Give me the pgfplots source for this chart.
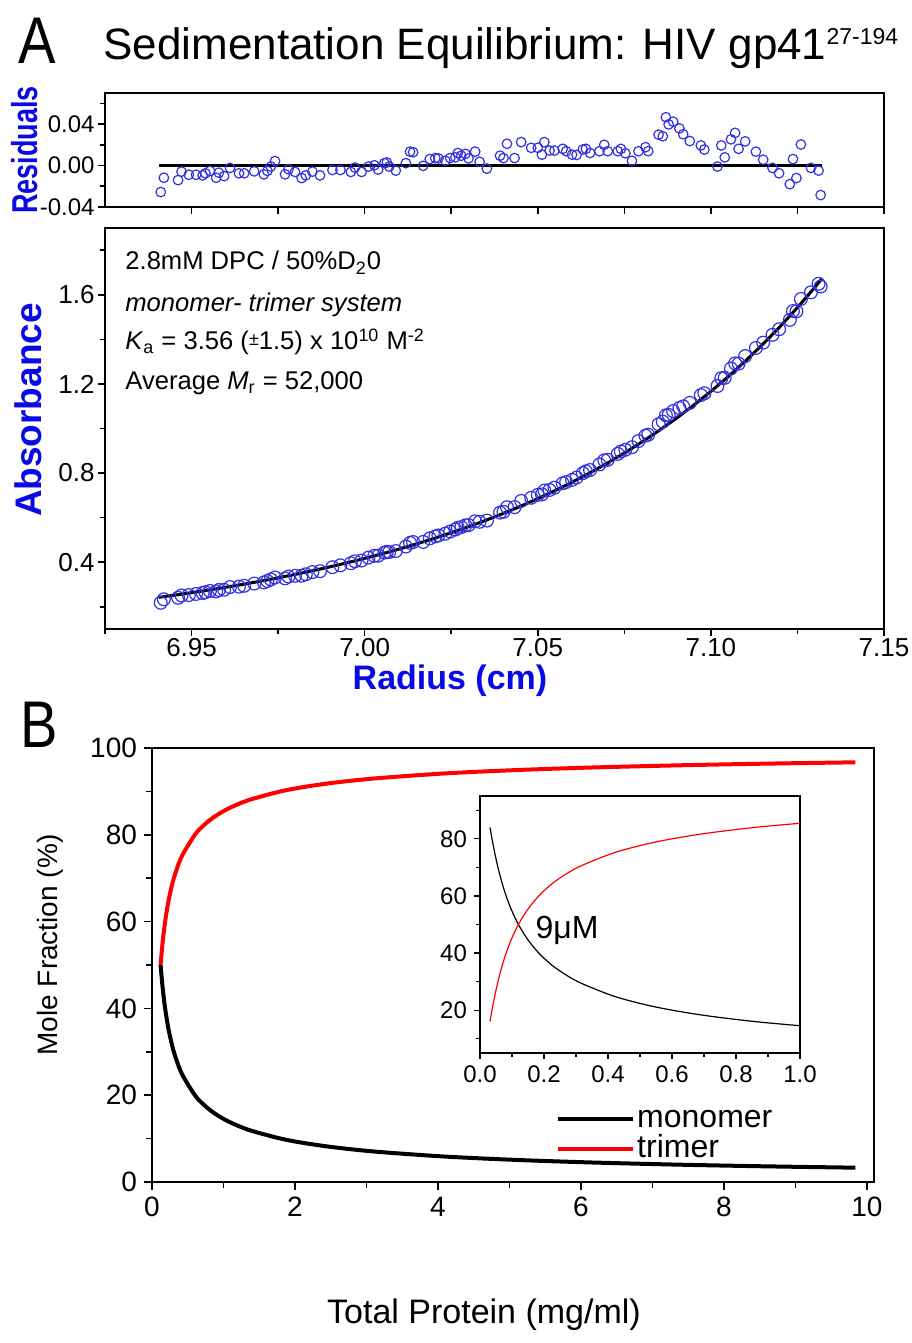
\documentclass[border=0pt]{standalone}
\usepackage{fontspec}
\setmainfont{Liberation Sans}
\usepackage{pgfplots}
\usepackage{pgfplotstable}
\pgfplotsset{compat=1.18}
\definecolor{lblue}{RGB}{10,10,230}
\definecolor{cblue}{RGB}{50,50,225}

\pgfplotstableread{
r res A
6.9411 -0.0256 0.2177
6.9420 -0.0118 0.2334
6.9461 -0.0141 0.2401
6.9471 -0.0059 0.2505
6.9492 -0.0089 0.2523
6.9513 -0.0089 0.2572
6.9532 -0.0095 0.2612
6.9540 -0.0075 0.2651
6.9553 -0.0052 0.2706
6.9571 -0.0118 0.2685
6.9579 -0.0069 0.2754
6.9594 -0.0102 0.2759
6.9611 -0.0023 0.2882
6.9637 -0.0075 0.2899
6.9652 -0.0075 0.2939
6.9681 -0.0056 0.3039
6.9709 -0.0085 0.3090
6.9719 -0.0052 0.3152
6.9729 -0.0010 0.3224
6.9741 0.0043 0.3312
6.9770 -0.0085 0.3273
6.9780 -0.0036 0.3354
6.9799 -0.0062 0.3387
6.9818 -0.0121 0.3390
6.9830 -0.0095 0.3456
6.9849 -0.0059 0.3555
6.9871 -0.0095 0.3595
6.9907 -0.0043 0.3774
6.9930 -0.0043 0.3858
6.9960 -0.0062 0.3951
6.9972 -0.0020 0.4040
6.9991 -0.0062 0.4072
7.0011 -0.0010 0.4204
7.0028 0.0003 0.4287
7.0039 -0.0039 0.4290
7.0057 0.0023 0.4427
7.0064 0.0030 0.4464
7.0071 -0.0010 0.4455
7.0090 -0.0049 0.4498
7.0119 0.0023 0.4700
7.0131 0.0134 0.4867
7.0140 0.0128 0.4902
7.0169 -0.0003 0.4909
7.0188 0.0062 0.5067
7.0204 0.0072 0.5156
7.0213 0.0069 0.5199
7.0233 0.0046 0.5279
7.0247 0.0072 0.5377
7.0262 0.0079 0.5464
7.0269 0.0121 0.5544
7.0279 0.0095 0.5572
7.0291 0.0112 0.5654
7.0300 0.0069 0.5660
7.0319 0.0134 0.5834
7.0332 0.0036 0.5811
7.0353 -0.0030 0.5867
7.0391 0.0095 0.6224
7.0401 0.0072 0.6262
7.0411 0.0210 0.6465
7.0433 0.0072 0.6469
7.0452 0.0226 0.6747
7.0481 0.0171 0.6890
7.0500 0.0171 0.7020
7.0512 0.0105 0.7041
7.0519 0.0226 0.7213
7.0534 0.0144 0.7240
7.0548 0.0144 0.7341
7.0572 0.0161 0.7542
7.0582 0.0138 0.7596
7.0599 0.0105 0.7694
7.0612 0.0102 0.7797
7.0630 0.0154 0.7996
7.0639 0.0161 0.8076
7.0651 0.0121 0.8135
7.0678 0.0138 0.8385
7.0692 0.0200 0.8569
7.0702 0.0138 0.8594
7.0731 0.0138 0.8861
7.0740 0.0161 0.8967
7.0753 0.0118 0.9045
7.0772 0.0046 0.9159
7.0791 0.0138 0.9437
7.0811 0.0177 0.9678
7.0819 0.0138 0.9721
7.0849 0.0298 1.0192
7.0861 0.0282 1.0307
7.0870 0.0466 1.0591
7.0878 0.0397 1.0610
7.0891 0.0423 1.0780
7.0909 0.0358 1.0919
7.0920 0.0302 1.0992
7.0939 0.0236 1.1149
7.0971 0.0194 1.1498
7.0981 0.0154 1.1582
7.1019 -0.0010 1.1907
7.1030 0.0194 1.2256
7.1040 0.0079 1.2274
7.1058 0.0253 1.2693
7.1070 0.0315 1.2924
7.1080 0.0161 1.2911
7.1099 0.0233 1.3251
7.1130 0.0134 1.3615
7.1151 0.0056 1.3853
7.1178 -0.0023 1.4205
7.1197 -0.0075 1.4456
7.1228 -0.0180 1.4875
7.1237 0.0062 1.5270
7.1247 -0.0121 1.5257
7.1260 0.0203 1.5813
7.1289 -0.0023 1.6113
7.1311 -0.0049 1.6494
7.1317 -0.0285 1.6372
}\panelA

\pgfplotstableread{
r A
6.9405 0.2421
6.945 0.2517
6.950 0.2630
6.955 0.2750
6.960 0.2876
6.965 0.3008
6.970 0.3148
6.975 0.3296
6.980 0.3452
6.985 0.3617
6.990 0.3791
6.995 0.3974
7.000 0.4169
7.005 0.4374
7.010 0.4590
7.015 0.4820
7.020 0.5063
7.025 0.5320
7.030 0.5591
7.035 0.5879
7.040 0.6184
7.045 0.6507
7.050 0.6849
7.055 0.7212
7.060 0.7597
7.065 0.8005
7.070 0.8438
7.075 0.8898
7.080 0.9387
7.085 0.9904
7.090 1.0456
7.095 1.1042
7.100 1.1665
7.105 1.2327
7.110 1.3032
7.115 1.3781
7.120 1.4579
7.125 1.5429
7.130 1.6335
7.132 1.6713
}\fitA

\pgfplotstableread{
c mono tri
0.12 50 50
0.1474 45 55
0.1837 40 60
0.2336 35 65
0.3055 30 70
0.4157 25 75
0.6 20 80
0.7115 18 82
0.859 16 84
1.062 14 86
1.354 12 88
1.8 10 90
2.12 9 91
2.543 8 92
3.124 7 93
3.958 6 94
4.522 5.5 94.5
5.231 5 95
6.142 4.5 95.5
7.348 4 96
8.27 3.7 96.3
9.0 3.5 96.5
9.84 3.3 96.7
}\moleMain

\pgfplotstableread{
c mono tri
0.0312 84 16
0.0375 80 20
0.0462 75 25
0.0561 70 30
0.0677 65 35
0.0816 60 40
0.0987 55 45
0.12 50 50
0.1474 45 55
0.1837 40 60
0.2336 35 65
0.3055 30 70
0.4157 25 75
0.5135 22 78
0.6 20 80
0.7115 18 82
0.859 16 84
1.0 14.55 85.45
}\moleInset

\begin{document}
\begin{tikzpicture}
\useasboundingbox (0,0) rectangle (455.5pt,671.5pt);
\pgfplotsset{
  every axis/.append style={
    scale only axis, anchor=south west,
    axis line style={line width=0.8pt},
    tick align=outside, xtick pos=bottom, ytick pos=left,
    major tick length=3.5pt, minor tick length=2.5pt,
    every tick/.style={black, line width=0.8pt},
    scaled x ticks=false, scaled y ticks=false,
  },
}
% ---------- Residuals ----------
\begin{axis}[at={(52.5pt,568pt)}, width=389.5pt, height=57pt,
  xmin=6.925, xmax=7.15, ymin=-0.04, ymax=0.07,
  xtick={6.95,6.975,7,7.025,7.05,7.075,7.1,7.125,7.15}, xticklabels={},
  ytick={-0.04,0,0.04}, yticklabels={-0.04,0.00,0.04},
  minor ytick={-0.02,0.02,0.06},
  yticklabel style={font=\fontsize{12}{12}\selectfont, inner sep=1.5pt},
]
\addplot[draw=cblue, only marks, mark=o, mark size=2.4pt, mark options={line width=0.6pt}] table[x=r,y=res]{\panelA};
\addplot[black, line width=1.5pt] coordinates {(6.9405,0) (7.1322,0)};
\end{axis}
% ---------- Absorbance ----------
\begin{axis}[at={(52.5pt,357pt)}, width=389.5pt, height=200.5pt,
  xmin=6.925, xmax=7.15, ymin=0.1, ymax=1.9,
  xtick={6.95,7,7.05,7.1,7.15}, xticklabels={6.95,7.00,7.05,7.10,7.15},
  minor xtick={6.925,6.975,7.025,7.075,7.125},
  ytick={0.4,0.8,1.2,1.6}, yticklabels={0.4,0.8,1.2,1.6},
  minor ytick={0.2,0.6,1.0,1.4,1.8},
  yticklabel style={font=\fontsize{13}{13}\selectfont, inner sep=1.5pt},
  xticklabel style={font=\fontsize{13}{13}\selectfont, inner sep=1pt},
]
\addplot[draw=cblue, only marks, mark=o, mark size=3.2pt, mark options={line width=0.6pt}] table[x=r,y=A]{\panelA};
\addplot[black, line width=1.5pt] table[x=r,y=A]{\fitA};
\end{axis}
% ---------- Panel B ----------
\begin{axis}[at={(76pt,80.5pt)}, width=361pt, height=217pt,
  xmin=0, xmax=10.1, ymin=0, ymax=100,
  xtick={0,2,4,6,8,10}, xticklabels={0,2,4,6,8,10},
  minor xtick={1,3,5,7,9},
  ytick={0,20,40,60,80,100}, yticklabels={0,20,40,60,80,100},
  minor ytick={10,30,50,70,90},
  major tick length=4pt, minor tick length=3pt,
  tick label style={font=\fontsize{14}{14}\selectfont},
  legend style={draw=none, fill=none, at={(0.551,0.11)}, anchor=west,
    font=\fontsize{16}{16}\selectfont, row sep=0pt,
    nodes={inner sep=1pt, text height=10.5pt, text depth=2.5pt}},
  legend cell align=left,
  legend image code/.code={\draw[#1] (0pt,0pt) -- (37.5pt,0pt);},
]
\addplot[black, line width=2pt, smooth] table[x=c,y=mono]{\moleMain};
\addlegendentry{monomer}
\addplot[red, line width=2pt, smooth] table[x=c,y=tri]{\moleMain};
\addlegendentry{trimer}
\end{axis}
% ---------- Inset ----------
\begin{axis}[at={(240pt,145pt)}, width=160pt, height=128.5pt,
  xmin=0, xmax=1, ymin=5, ymax=95,
  axis background/.style={fill=white},
  axis line style={line width=0.6pt},
  every tick/.style={black, line width=0.6pt},
  major tick length=3pt, minor tick length=2pt,
  xtick={0,0.2,0.4,0.6,0.8,1}, xticklabels={0.0,0.2,0.4,0.6,0.8,1.0},
  minor xtick={0.1,0.3,0.5,0.7,0.9},
  ytick={20,40,60,80}, yticklabels={20,40,60,80},
  minor ytick={10,30,50,70,90},
  tick label style={font=\fontsize{12}{12}\selectfont},
]
\addplot[black, line width=0.6pt, smooth] table[x=c,y=mono]{\moleInset};
\addplot[red, line width=0.6pt, smooth] table[x=c,y=tri]{\moleInset};
\end{axis}
\node[inner sep=0pt] at (283.5pt,206.5pt) {\fontsize{16}{16}\selectfont 9μM};

% ---------- texts ----------
\node[inner sep=0pt] at (18.5pt,651pt) {\scalebox{0.85}[1]{\fontsize{33}{33}\selectfont A}};
\node[inner sep=0pt] at (19.5pt,309pt) {\scalebox{0.85}[1]{\fontsize{33}{33}\selectfont B}};
\node[anchor=base west, inner sep=0pt] at (51.5pt,641.5pt) {\fontsize{22}{22}\selectfont Sedimentation Equilibrium: HIV gp41\raisebox{7.5pt}{\fontsize{11.5}{11.5}\selectfont 27-194}};
\node[rotate=90, inner sep=0pt, text=lblue] at (12.5pt,596.5pt) {\scalebox{0.75}[1]{\fontsize{18}{18}\selectfont\bfseries Residuals}};
\node[rotate=90, inner sep=0pt, text=lblue] at (14pt,466.5pt) {\fontsize{18.5}{18.5}\selectfont\bfseries Absorbance};
\node[inner sep=0pt, text=lblue] at (225pt,331pt) {\fontsize{17}{17}\selectfont\bfseries Radius (cm)};
\node[anchor=base west, inner sep=0pt] at (62.5pt,536.5pt) {\fontsize{12.8}{12.8}\selectfont 2.8mM DPC / 50\%D\textsubscript{2}0};
\node[anchor=base west, inner sep=0pt] at (62.5pt,515.6pt) {\fontsize{12.8}{12.8}\selectfont\itshape monomer- trimer system};
\node[anchor=base west, inner sep=0pt] at (62.5pt,496.5pt) {\fontsize{12.8}{12.8}\selectfont \textit{K}\textsubscript{a} = 3.56 (\raisebox{2pt}{\fontsize{9}{9}\selectfont ±}1.5) x 10\textsuperscript{10} M\textsuperscript{-2}};
\node[anchor=base west, inner sep=0pt] at (62.5pt,476.5pt) {\fontsize{12.8}{12.8}\selectfont Average \textit{M}\textsubscript{r} = 52,000};
\node[rotate=90, inner sep=0pt] at (25pt,199pt) {\fontsize{14}{14}\selectfont Mole Fraction (\%)};
\node[inner sep=0pt] at (242pt,14pt) {\fontsize{17}{17}\selectfont Total Protein (mg/ml)};
\end{tikzpicture}
\end{document}
